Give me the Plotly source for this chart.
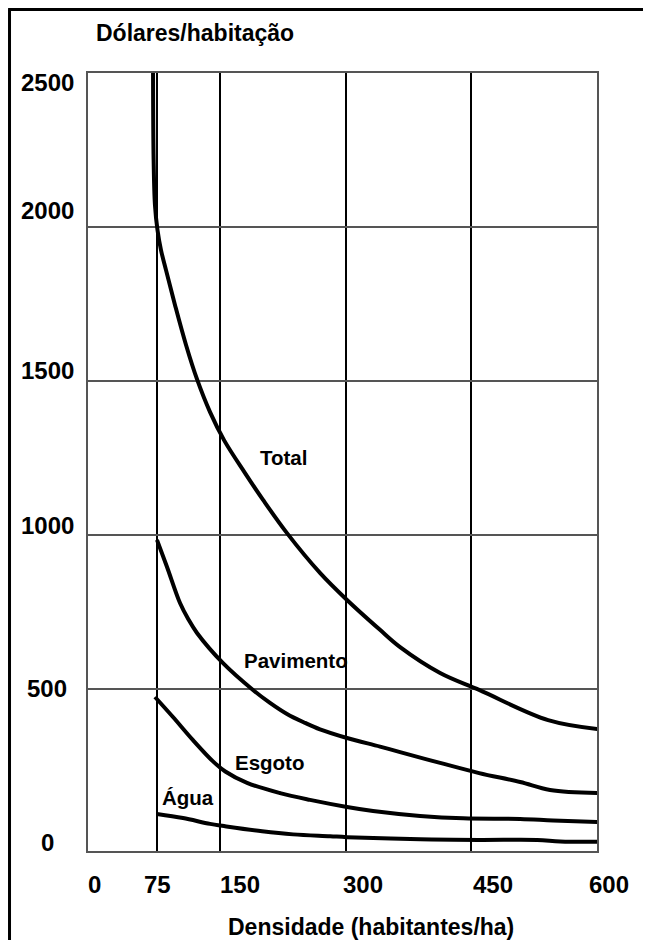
import plotly.graph_objects as go

# ---- data ----
total_x = [69.7, 70.4, 72.0, 75.0, 79.2, 85.2, 95.9, 109.1, 122.2, 137.8, 154.5, 179.6, 201.1, 229.7, 269.1, 301.4, 340.8, 364.8, 412.6, 459.2, 541.6, 601.3]
total_y = [2500, 2218, 2071, 1990, 1925, 1860, 1747, 1617, 1506, 1399, 1308, 1201, 1114, 1006, 877, 789, 692, 636, 552, 497, 399, 370]

pav_x = [74.4, 86.4, 101.9, 111.7, 122.2, 153.3, 189.1, 209.4, 229.7, 251.3, 269.1, 301.4, 340.8, 364.8, 412.6, 459.2, 508.2, 543.9, 601.3]
pav_y = [984, 896, 779, 727, 682, 584, 497, 455, 419, 390, 369, 341, 313, 295, 260, 227, 198, 172, 162]

esg_x = [72.0, 93.5, 117.4, 141.3, 156.0, 182.0, 221.4, 257.2, 301.4, 332.5, 388.7, 440.1, 508.2, 547.6, 601.3]
esg_y = [474, 409, 334, 265, 232, 195, 162, 140, 117, 104, 88, 80, 78, 73, 68]

agua_x = [74.4, 105.5, 137.8, 154.5, 200.0, 237.0, 281.2, 301.4, 388.7, 459.2, 528.5, 556.0, 601.3]
agua_y = [94, 81, 62, 55, 38, 28, 22, 19, 12, 10, 10, 5, 4]

series_names = ["Total", "Pavimento", "Esgoto", "Água"]
label_x = [225, 240.6, 208.2, 111.5]
label_y = [1253, 594, 260, 149]

x_ticks = [0, 75, 150, 300, 450, 600]
x_tick_labels = ["0", "75", "150", "300", "450", "600"]
y_ticks = [0, 500, 1000, 1500, 2000, 2500]
y_tick_labels = ["0", "500", "1000", "1500", "2000", "2500"]

title_text = "Dólares/habitação"
x_title_text = "Densidade (habitantes/ha)"

# ---- style ----
x_label_shift = [0, 0, 20, 17, 22, 12]
y_label_shift = [0, 0, 10, 11, 17, -9]
FONT = "Liberation Sans, Arial, sans-serif"

fig = go.Figure()
for xs, ys in [(total_x, total_y), (pav_x, pav_y), (esg_x, esg_y), (agua_x, agua_y)]:
    fig.add_trace(go.Scatter(x=xs, y=ys, mode="lines",
                             line=dict(color="black", width=4, shape="spline", smoothing=1.0),
                             showlegend=False, hoverinfo="skip", cliponaxis=True))

ann = []
for name, lx, ly in zip(series_names, label_x, label_y):
    ann.append(dict(x=lx, y=ly, xref="x", yref="y", text=name, showarrow=False,
                    font=dict(family=FONT, size=20.5, color="black", weight="bold"),
                    xanchor="center", yanchor="middle"))
for v, t, s in zip(x_ticks, x_tick_labels, x_label_shift):
    ann.append(dict(x=v, y=0, xref="x", yref="paper", text=t, showarrow=False,
                    font=dict(family=FONT, size=24, color="black", weight="bold"),
                    xanchor="center", yanchor="middle", xshift=s, yshift=-33))
for v, t, s in zip(y_ticks, y_tick_labels, y_label_shift):
    ann.append(dict(x=0, y=v, xref="paper", yref="y", text=t, showarrow=False,
                    font=dict(family=FONT, size=24, color="black", weight="bold"),
                    xanchor="center", yanchor="middle", xshift=-41, yshift=s))
ann.append(dict(x=0.210, y=1.051, xref="paper", yref="paper", text=title_text, showarrow=False,
                font=dict(family=FONT, size=23, color="black", weight="bold"),
                xanchor="center", yanchor="middle"))
ann.append(dict(x=0.556, y=-0.0977, xref="paper", yref="paper", text=x_title_text, showarrow=False,
                font=dict(family=FONT, size=23, color="black", weight="bold"),
                xanchor="center", yanchor="middle"))

shapes = [
    dict(type="line", xref="paper", yref="paper", x0=-0.157, x1=1.2, y0=1.0816, y1=1.0816,
         line=dict(color="black", width=3)),
    dict(type="line", xref="paper", yref="paper", x0=-0.1542, x1=-0.1542, y0=-0.2, y1=1.0816,
         line=dict(color="black", width=3)),
]

fig.update_layout(
    width=651, height=940,
    margin=dict(l=80, r=62, t=65, b=97),
    paper_bgcolor="white", plot_bgcolor="white",
    annotations=ann, shapes=shapes,
    xaxis=dict(range=[-8, 600], tickvals=[75, 150, 300, 450, 600], showticklabels=False,
               showgrid=True, gridcolor="black", gridwidth=1.5, zeroline=False,
               showline=True, linecolor="#555", linewidth=2, mirror=True, ticks=""),
    yaxis=dict(range=[-26, 2500], tickvals=[500, 1000, 1500, 2000], showticklabels=False,
               showgrid=True, gridcolor="#555", gridwidth=2, zeroline=False,
               showline=True, linecolor="#555", linewidth=2, mirror=True, ticks=""),
)

fig.write_html("out.html")
